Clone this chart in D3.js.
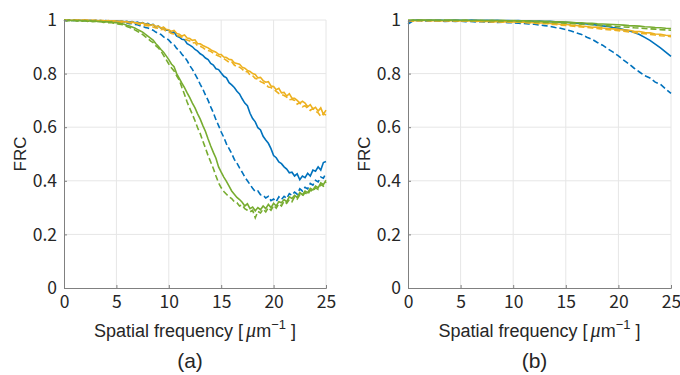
<!DOCTYPE html>
<html>
<head>
<meta charset="utf-8">
<script src="https://cdn.jsdelivr.net/npm/d3@7"></script>
<style>
  body { margin: 0; background: #fff; }
  svg text { font-family: "Liberation Sans", Arial, sans-serif; fill: #262626; }
</style>
</head>
<body>
<div id="chart"></div>
<script>
// sample grids (spatial frequency, um^-1)
const freqA = d3.range(0, 25.001, 0.25);
const freqB = d3.range(0, 25.001, 0.5);

const xTicks = [0, 5, 10, 15, 20, 25];
const yTicks = [0, 0.2, 0.4, 0.6, 0.8, 1];
const panelLabels = ["(a)", "(b)"];

// panel (a) FRC curves
const frcA_blue = [
  1.000, 0.999, 1.000, 0.998, 0.999, 1.000, 0.999, 0.998, 1.000, 0.998, 0.999, 0.997,
  0.999, 0.997, 0.998, 0.996, 0.998, 0.995, 0.997, 0.996, 0.997, 0.995, 0.996, 0.993,
  0.995, 0.992, 0.994, 0.990, 0.992, 0.988, 0.990, 0.984, 0.987, 0.981, 0.984, 0.974,
  0.977, 0.970, 0.972, 0.962, 0.962, 0.952, 0.955, 0.940, 0.936, 0.928, 0.926, 0.912,
  0.906, 0.900, 0.890, 0.884, 0.874, 0.868, 0.858, 0.852, 0.838, 0.832, 0.818, 0.815,
  0.802, 0.790, 0.784, 0.766, 0.758, 0.748, 0.734, 0.724, 0.706, 0.690, 0.680, 0.652,
  0.632, 0.620, 0.598, 0.590, 0.566, 0.552, 0.540, 0.520, 0.494, 0.486, 0.470, 0.464,
  0.452, 0.444, 0.430, 0.432, 0.418, 0.426, 0.404, 0.418, 0.412, 0.428, 0.418, 0.440,
  0.436, 0.452, 0.440, 0.468, 0.472
];
const frcA_blueDash = [
  0.999, 0.997, 0.999, 0.998, 0.998, 0.999, 0.997, 0.998, 0.997, 0.998, 0.996, 0.997,
  0.997, 0.995, 0.996, 0.994, 0.995, 0.993, 0.994, 0.992, 0.993, 0.990, 0.991, 0.988,
  0.989, 0.986, 0.987, 0.983, 0.982, 0.979, 0.977, 0.972, 0.970, 0.966, 0.962, 0.955,
  0.950, 0.946, 0.937, 0.932, 0.925, 0.914, 0.908, 0.894, 0.886, 0.872, 0.862, 0.848,
  0.830, 0.816, 0.798, 0.780, 0.760, 0.742, 0.720, 0.700, 0.676, 0.654, 0.628, 0.606,
  0.582, 0.562, 0.538, 0.520, 0.502, 0.480, 0.466, 0.448, 0.432, 0.414, 0.400, 0.386,
  0.372, 0.360, 0.362, 0.348, 0.346, 0.336, 0.342, 0.326, 0.332, 0.322, 0.340, 0.330,
  0.342, 0.334, 0.352, 0.346, 0.358, 0.350, 0.370, 0.362, 0.376, 0.370, 0.390, 0.384,
  0.402, 0.396, 0.414, 0.410, 0.428
];
const frcA_yellow = [
  1.000, 0.998, 1.000, 0.999, 1.000, 0.999, 1.000, 0.998, 0.999, 1.000, 0.998, 0.999,
  0.998, 0.997, 0.999, 0.997, 0.997, 0.998, 0.995, 0.997, 0.996, 0.994, 0.996, 0.993,
  0.994, 0.991, 0.993, 0.990, 0.990, 0.987, 0.989, 0.984, 0.985, 0.980, 0.983, 0.976,
  0.977, 0.970, 0.973, 0.965, 0.963, 0.958, 0.961, 0.950, 0.947, 0.940, 0.944, 0.933,
  0.931, 0.924, 0.926, 0.912, 0.911, 0.905, 0.900, 0.896, 0.889, 0.884, 0.880, 0.872,
  0.871, 0.862, 0.860, 0.853, 0.852, 0.840, 0.838, 0.835, 0.824, 0.820, 0.812, 0.808,
  0.800, 0.797, 0.784, 0.786, 0.774, 0.768, 0.770, 0.754, 0.752, 0.740, 0.745, 0.728,
  0.730, 0.716, 0.725, 0.708, 0.708, 0.700, 0.690, 0.697, 0.690, 0.676, 0.684, 0.668,
  0.674, 0.660, 0.672, 0.648, 0.664
];
const frcA_yellowDash = [
  0.999, 1.000, 0.998, 1.000, 0.999, 1.000, 0.999, 1.000, 1.000, 0.998, 0.999, 0.998,
  0.999, 0.998, 0.996, 0.998, 0.996, 0.997, 0.996, 0.994, 0.995, 0.993, 0.992, 0.993,
  0.991, 0.990, 0.988, 0.989, 0.986, 0.983, 0.984, 0.979, 0.980, 0.975, 0.974, 0.970,
  0.969, 0.964, 0.966, 0.957, 0.956, 0.950, 0.948, 0.942, 0.940, 0.936, 0.928, 0.925,
  0.922, 0.914, 0.916, 0.904, 0.902, 0.897, 0.889, 0.886, 0.883, 0.876, 0.870, 0.866,
  0.861, 0.856, 0.849, 0.842, 0.844, 0.832, 0.826, 0.824, 0.817, 0.806, 0.808, 0.794,
  0.792, 0.782, 0.780, 0.770, 0.766, 0.760, 0.750, 0.748, 0.742, 0.734, 0.726, 0.722,
  0.718, 0.712, 0.702, 0.704, 0.700, 0.686, 0.692, 0.676, 0.680, 0.670, 0.662, 0.670,
  0.660, 0.654, 0.640, 0.650, 0.645
];
const frcA_green = [
  1.000, 0.998, 0.999, 0.997, 0.999, 0.997, 0.998, 0.996, 0.998, 0.995, 0.997, 0.996,
  0.996, 0.994, 0.995, 0.993, 0.994, 0.992, 0.993, 0.990, 0.990, 0.988, 0.986, 0.984,
  0.980, 0.978, 0.974, 0.970, 0.965, 0.960, 0.955, 0.947, 0.940, 0.932, 0.925, 0.912,
  0.902, 0.890, 0.880, 0.866, 0.852, 0.836, 0.826, 0.800, 0.782, 0.764, 0.748, 0.728,
  0.710, 0.690, 0.672, 0.650, 0.630, 0.606, 0.584, 0.556, 0.530, 0.506, 0.484, 0.452,
  0.432, 0.414, 0.398, 0.380, 0.362, 0.350, 0.338, 0.330, 0.320, 0.306, 0.314, 0.296,
  0.302, 0.288, 0.300, 0.292, 0.306, 0.296, 0.312, 0.300, 0.316, 0.306, 0.322, 0.318,
  0.330, 0.322, 0.340, 0.334, 0.346, 0.338, 0.356, 0.348, 0.362, 0.356, 0.372, 0.366,
  0.380, 0.374, 0.392, 0.386, 0.402
];
const frcA_greenDash = [
  0.999, 0.997, 1.000, 0.998, 0.998, 0.996, 0.999, 0.997, 0.997, 0.995, 0.996, 0.994,
  0.995, 0.993, 0.994, 0.991, 0.992, 0.990, 0.991, 0.988, 0.987, 0.984, 0.983, 0.979,
  0.976, 0.972, 0.969, 0.963, 0.958, 0.952, 0.946, 0.938, 0.931, 0.922, 0.916, 0.904,
  0.896, 0.884, 0.868, 0.852, 0.836, 0.822, 0.810, 0.792, 0.776, 0.748, 0.722, 0.694,
  0.670, 0.648, 0.624, 0.598, 0.576, 0.548, 0.522, 0.494, 0.470, 0.446, 0.418, 0.392,
  0.374, 0.360, 0.350, 0.340, 0.334, 0.322, 0.318, 0.306, 0.310, 0.296, 0.290, 0.284,
  0.290, 0.262, 0.286, 0.280, 0.294, 0.284, 0.300, 0.290, 0.308, 0.298, 0.314, 0.306,
  0.324, 0.316, 0.330, 0.322, 0.340, 0.332, 0.348, 0.342, 0.356, 0.348, 0.366, 0.360,
  0.374, 0.368, 0.386, 0.380, 0.396
];

// panel (b) FRC curves
const frcB_blue = [
  0.992, 0.999, 1.000, 0.999, 1.000, 0.999, 1.000, 0.998, 0.999, 1.000,
  0.999, 0.998, 1.000, 0.999, 0.998, 0.999, 0.998, 0.999, 0.997, 0.998,
  0.997, 0.998, 0.996, 0.997, 0.995, 0.996, 0.994, 0.995, 0.993, 0.992,
  0.991, 0.990, 0.988, 0.987, 0.985, 0.983, 0.981, 0.978, 0.976, 0.972,
  0.969, 0.964, 0.960, 0.953, 0.946, 0.935, 0.924, 0.910, 0.896, 0.880,
  0.864
];
const frcB_blueDash = [
  0.985, 0.997, 0.998, 0.996, 0.997, 0.996, 0.997, 0.995, 0.996, 0.995,
  0.996, 0.994, 0.995, 0.993, 0.994, 0.992, 0.993, 0.991, 0.992, 0.990,
  0.990, 0.988, 0.987, 0.985, 0.984, 0.981, 0.979, 0.976, 0.972, 0.969,
  0.964, 0.959, 0.952, 0.946, 0.936, 0.928, 0.916, 0.906, 0.892, 0.880,
  0.866, 0.850, 0.836, 0.820, 0.806, 0.792, 0.784, 0.768, 0.760, 0.742,
  0.726
];
const frcB_yellow = [
  0.996, 0.998, 0.997, 0.999, 0.997, 0.998, 0.996, 0.997, 0.998, 0.996,
  0.997, 0.996, 0.997, 0.995, 0.996, 0.995, 0.994, 0.995, 0.993, 0.994,
  0.993, 0.992, 0.993, 0.991, 0.990, 0.989, 0.990, 0.987, 0.986, 0.984,
  0.984, 0.981, 0.980, 0.977, 0.976, 0.973, 0.974, 0.970, 0.968, 0.967,
  0.965, 0.963, 0.962, 0.958, 0.957, 0.953, 0.952, 0.948, 0.947, 0.943,
  0.942
];
const frcB_yellowDash = [
  0.998, 0.996, 0.998, 0.997, 0.998, 0.996, 0.998, 0.997, 0.996, 0.997,
  0.996, 0.997, 0.995, 0.996, 0.994, 0.995, 0.993, 0.994, 0.992, 0.993,
  0.991, 0.992, 0.990, 0.989, 0.988, 0.986, 0.987, 0.984, 0.983, 0.981,
  0.980, 0.978, 0.976, 0.974, 0.972, 0.970, 0.968, 0.966, 0.964, 0.962,
  0.960, 0.958, 0.955, 0.954, 0.950, 0.949, 0.946, 0.944, 0.941, 0.940,
  0.938
];
const frcB_green = [
  0.999, 1.000, 0.999, 1.000, 0.999, 1.000, 0.999, 0.999, 1.000, 0.999,
  0.999, 1.000, 0.998, 0.999, 0.999, 0.998, 0.999, 0.998, 0.999, 0.997,
  0.998, 0.997, 0.997, 0.996, 0.996, 0.995, 0.995, 0.994, 0.993, 0.993,
  0.992, 0.991, 0.990, 0.990, 0.988, 0.988, 0.986, 0.985, 0.984, 0.983,
  0.982, 0.981, 0.979, 0.978, 0.977, 0.975, 0.974, 0.972, 0.971, 0.969,
  0.968
];
const frcB_greenDash = [
  0.998, 0.999, 1.000, 0.998, 0.999, 0.999, 0.998, 1.000, 0.998, 0.999,
  0.998, 0.999, 0.997, 0.998, 0.998, 0.997, 0.998, 0.996, 0.997, 0.996,
  0.996, 0.995, 0.995, 0.994, 0.993, 0.993, 0.991, 0.991, 0.990, 0.989,
  0.988, 0.987, 0.986, 0.984, 0.984, 0.982, 0.981, 0.979, 0.978, 0.977,
  0.975, 0.974, 0.973, 0.971, 0.970, 0.968, 0.967, 0.966, 0.964, 0.963,
  0.962
];

const blue = "#0072BD", yellow = "#EDB120", green = "#77AC30";

const width = 680, height = 375;
const svg = d3.select("#chart")
  .append("svg")
  .attr("width", width)
  .attr("height", height);

const panels = [
  {
    left: 64, right: 326, label: panelLabels[0], freq: freqA,
    series: [
      { values: frcA_blue, color: blue, dash: false },
      { values: frcA_blueDash, color: blue, dash: true },
      { values: frcA_yellow, color: yellow, dash: false },
      { values: frcA_yellowDash, color: yellow, dash: true },
      { values: frcA_green, color: green, dash: false },
      { values: frcA_greenDash, color: green, dash: true }
    ]
  },
  {
    left: 408, right: 671, label: panelLabels[1], freq: freqB,
    series: [
      { values: frcB_blue, color: blue, dash: false },
      { values: frcB_blueDash, color: blue, dash: true },
      { values: frcB_yellow, color: yellow, dash: false },
      { values: frcB_yellowDash, color: yellow, dash: true },
      { values: frcB_green, color: green, dash: false },
      { values: frcB_greenDash, color: green, dash: true }
    ]
  }
];

const plotTop = 20, plotBottom = 288;

panels.forEach(function (p) {
  const x = d3.scaleLinear().domain([0, 25]).range([p.left, p.right]);
  const y = d3.scaleLinear().domain([0, 1]).range([plotBottom, plotTop]);
  const g = svg.append("g");

  // grid
  g.append("g")
    .selectAll("line")
    .data(xTicks.slice(1))
    .join("line")
    .attr("x1", d => x(d)).attr("x2", d => x(d))
    .attr("y1", plotTop).attr("y2", plotBottom)
    .attr("stroke", "#e6e6e6").attr("stroke-width", 1);
  g.append("g")
    .selectAll("line")
    .data(yTicks.slice(1))
    .join("line")
    .attr("x1", p.left).attr("x2", p.right)
    .attr("y1", d => y(d)).attr("y2", d => y(d))
    .attr("stroke", "#e6e6e6").attr("stroke-width", 1);

  // curves
  const line = d3.line()
    .x((d, i) => x(p.freq[i]))
    .y(d => y(d));
  g.append("g")
    .selectAll("path")
    .data(p.series)
    .join("path")
    .attr("fill", "none")
    .attr("stroke", d => d.color)
    .attr("stroke-width", 1.6)
    .attr("stroke-dasharray", d => d.dash ? "6,3" : null)
    .attr("d", d => line(d.values));

  // axes
  const xAxis = g.append("g")
    .attr("transform", `translate(0,${plotBottom})`)
    .call(d3.axisBottom(x).tickValues(xTicks).tickSize(-3).tickPadding(8).tickFormat(d3.format("d")));
  const yAxis = g.append("g")
    .attr("transform", `translate(${p.left},0)`)
    .call(d3.axisLeft(y).tickValues(yTicks).tickSize(-3).tickPadding(7).tickFormat(d => d === 0 || d === 1 ? d : d3.format(".1f")(d)));
  [xAxis, yAxis].forEach(a => {
    a.select(".domain").attr("stroke", "#808080");
    a.selectAll(".tick line").attr("stroke", "#808080");
    a.selectAll("text")
      .style("font-family", "'Noto Sans CJK JP', 'Liberation Sans', sans-serif")
      .style("font-size", "17.5px")
      .attr("fill", "#262626");
  });

  // y label
  g.append("text")
    .attr("transform", `translate(${p.left - 38},${(plotTop + plotBottom) / 2}) rotate(-90)`)
    .attr("text-anchor", "middle")
    .style("font-size", "17px")
    .text("FRC");

  // x label
  const xl = g.append("text")
    .attr("x", (p.left + p.right) / 2)
    .attr("y", 337)
    .attr("text-anchor", "middle")
    .style("font-size", "18px");
  xl.append("tspan").text("Spatial frequency [");
  xl.append("tspan").attr("dx", 3).style("font-style", "italic").style("font-family", "'Liberation Serif', serif").style("font-size", "20px").text("μ");
  xl.append("tspan").text("m");
  xl.append("tspan").attr("dy", -8).style("font-size", "13px").text("−1");
  xl.append("tspan").attr("dx", 5).attr("dy", 8).text("]");

  // panel label
  g.append("text")
    .attr("x", (p.left + p.right) / 2 - 5)
    .attr("y", 368)
    .attr("text-anchor", "middle")
    .style("font-size", "21px")
    .text(p.label);
});
</script>
</body>
</html>
